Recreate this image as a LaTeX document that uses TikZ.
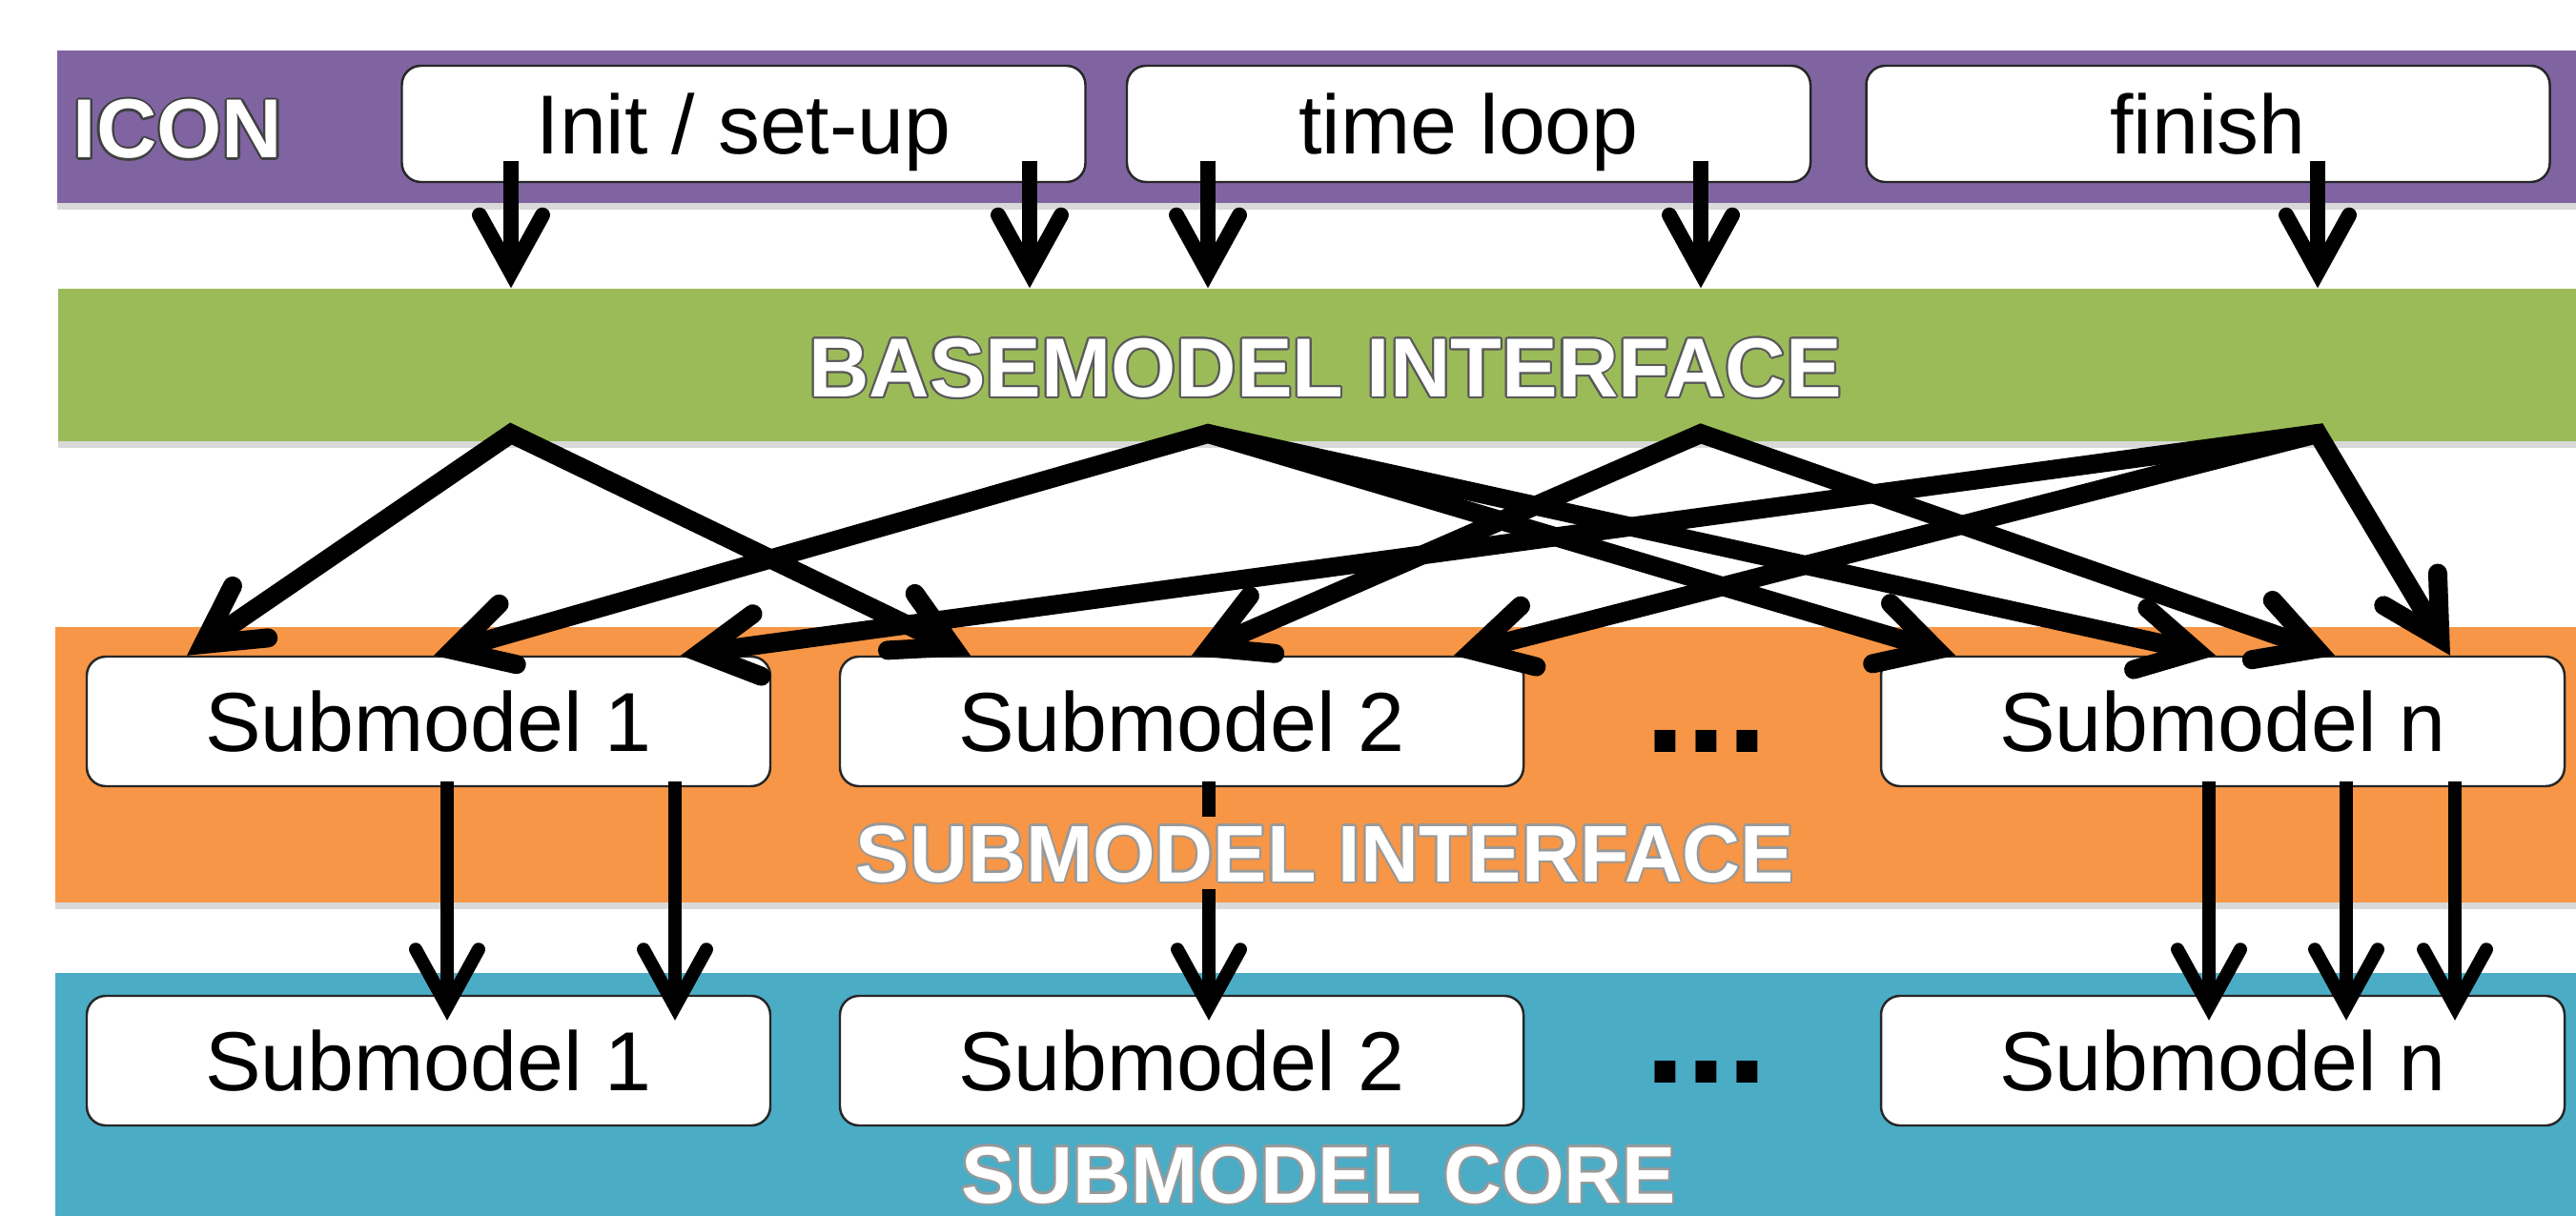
\documentclass[tikz,border=0pt]{standalone}
\usepackage{fontspec}
\setmainfont{Liberation Sans}
\setsansfont{Liberation Sans}
\usepackage{contour}
\usetikzlibrary{arrows.meta,positioning,calc,shadows}
\definecolor{iconpurple}{HTML}{8064A2}
\definecolor{basegreen}{HTML}{9BBB59}
\definecolor{suborange}{HTML}{F79646}
\definecolor{coreblue}{HTML}{4BACC6}
\contourlength{0.6pt}
\tikzset{
    every picture/.style={font=\sffamily},
    >={Straight Barb[length=6mm,width=6.6mm,line cap=round,line join=miter]},
    band/.style={draw=none, inner sep=0pt,
        drop shadow={shadow xshift=0pt, shadow yshift=-0.7mm, opacity=0.3}},
    modbox/.style={draw=black!85, line width=0.7pt, fill=white, rounded corners=2mm,
        minimum width=7.17cm, minimum height=1.36cm, inner sep=0pt,
        font=\fontsize{25}{25}\selectfont, text height=6.3mm, text depth=0pt},
    flow/.style={->, line width=1.6mm},
    cross/.style={line width=2mm, line join=miter},
    title/.style={font=\fontsize{25}{25}\selectfont\bfseries, text=white,
        inner sep=0.8mm, text height=6.3mm, text depth=0pt},
    subtitle/.style={title, font=\fontsize{24}{24}\selectfont\bfseries, text height=6mm},
    dots/.style={font=\fontsize{44}{44}\selectfont\bfseries, inner sep=0pt}
}

\begin{document}
\begin{tikzpicture}
    \useasboundingbox (0,0) rectangle (27.02,12.75);
    % layers
    \node[band, fill=iconpurple, minimum width=26.42cm, minimum height=1.6cm] (icon) at (13.81,11.42) {};
    \node[band, fill=basegreen, minimum width=26.41cm, minimum height=1.6cm] (base) at (13.815,8.92) {};
    \node[band, fill=suborange, minimum width=26.44cm, minimum height=2.89cm] (iface) at (13.80,4.725) {};
    \node[band, fill=coreblue, minimum width=26.44cm, minimum height=2.74cm] (core) at (13.80,1.17) {};

    \node[title] (icontitle) at (1.865,11.405) {\contour{black!75}{ICON}};
    \node[modbox, minimum height=1.22cm] (init) at (7.80,11.45) {Init / set-up};
    \node[modbox, minimum height=1.22cm] (loop) at (15.405,11.45) {time loop};
    \node[modbox, minimum height=1.22cm] (finish) at (23.16,11.45) {finish};

    \node[modbox] (sub1) at (4.495,5.18) {Submodel 1};
    \node[modbox] (sub2) at (12.395,5.18) {Submodel 2};
    \node[dots] (idots) at (17.90,4.97) {...};
    \node[modbox] (subn) at (23.315,5.18) {Submodel n};

    \node[modbox] (core1) at (4.495,1.62) {Submodel 1};
    \node[modbox] (core2) at (12.395,1.62) {Submodel 2};
    \node[dots] (cdots) at (17.90,1.50) {...};
    \node[modbox] (coren) at (23.315,1.62) {Submodel n};

    % calls into the basemodel interface
    \foreach \m/\dx in {init/-2.44, init/3.00, loop/-2.735, loop/2.435, finish/1.15} {
        \coordinate (top) at ([xshift=\dx cm, yshift=2.3mm]\m.south);
        \draw[flow] (top) -- (top |- base.north);
    }

    \coordinate (p1) at (5.36,8.20);
    \coordinate (p2) at (12.67,8.20);
    \coordinate (p3) at (17.84,8.20);
    \coordinate (p4) at (24.31,8.20);

    \draw[cross, <->] ([xshift=-2.535cm]sub1.north) -- (p1) -- ([xshift=-2.215cm]sub2.north);
    \draw[cross, <->] ([xshift=0.055cm]sub1.north) -- (p2) -- ([xshift=-2.805cm]subn.north);
    \draw[cross, ->] (p2) -- ([xshift=-0.075cm]subn.north);
    \draw[cross, <->] ([xshift=0.105cm]sub2.north) -- (p3) -- ([xshift=1.175cm]subn.north);
    \draw[cross, <->] ([xshift=2.645cm]sub1.north) -- (p4) -- ([xshift=2.385cm]subn.north);
    \draw[cross, ->] (p4) -- ([xshift=2.855cm]sub2.north);

    % submodel interface to core
    \foreach \m/\n/\dx in {sub1/core1/0.195, sub1/core1/2.585, sub2/core2/0.285,
                           subn/coren/-0.145, subn/coren/1.295, subn/coren/2.435} {
        \coordinate (bot) at ([xshift=\dx cm, yshift=0.6mm]\m.south);
        \draw[flow, line width=1.4mm] (bot) -- ($(bot |- \n.north)+(0,-0.27)$);
    }

    \node[title] (basetitle) at (13.90,8.90) {\contour{black!65}{BASEMODEL INTERFACE}};
    \node[subtitle, fill=suborange] (ifacetitle) at (13.90,3.80) {\contour{black!40}{SUBMODEL INTERFACE}};
    \node[subtitle, inner sep=0pt] (coretitle) at (13.83,0.43) {\contour{black!40}{SUBMODEL CORE}};
\end{tikzpicture}
\end{document}
